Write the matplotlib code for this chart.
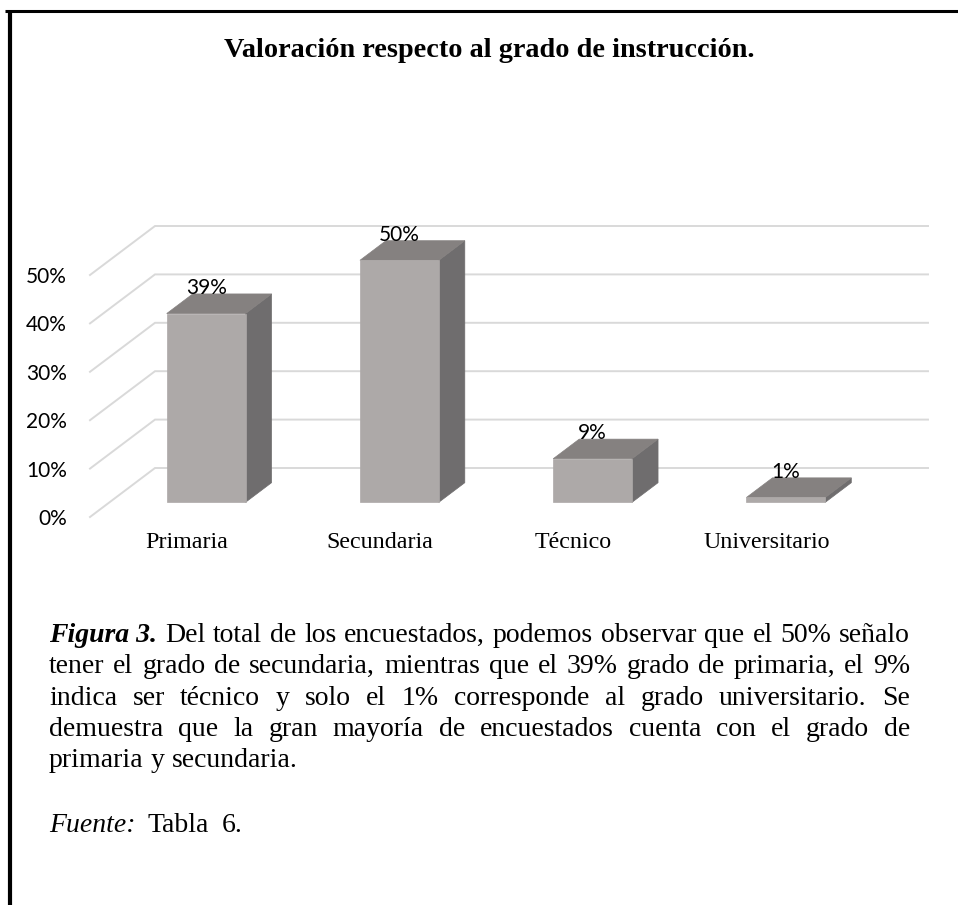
import matplotlib
matplotlib.use('Agg')
import matplotlib.pyplot as plt
from matplotlib.patches import Polygon
from matplotlib.lines import Line2D

# ---------------- data ----------------
categories = ['Primaria', 'Secundaria', 'Técnico', 'Universitario']
values = [39, 50, 9, 1]
value_labels = ['39%', '50%', '9%', '1%']
y_ticks = [0, 10, 20, 30, 40, 50]
y_tick_labels = ['0%', '10%', '20%', '30%', '40%', '50%']
title = 'Valoración respecto al grado de instrucción.'
caption_lines = [
    [('Figura 3.', 'bi'), ('Del', 'r'), ('total', 'r'), ('de', 'r'), ('los', 'r'), ('encuestados,', 'r'),
     ('podemos', 'r'), ('observar', 'r'), ('que', 'r'), ('el', 'r'), ('50%', 'r'), ('señalo', 'r')],
    [('tener', 'r'), ('el', 'r'), ('grado', 'r'), ('de', 'r'), ('secundaria,', 'r'), ('mientras', 'r'),
     ('que', 'r'), ('el', 'r'), ('39%', 'r'), ('grado', 'r'), ('de', 'r'), ('primaria,', 'r'), ('el', 'r'), ('9%', 'r')],
    [('indica', 'r'), ('ser', 'r'), ('técnico', 'r'), ('y', 'r'), ('solo', 'r'), ('el', 'r'), ('1%', 'r'),
     ('corresponde', 'r'), ('al', 'r'), ('grado', 'r'), ('universitario.', 'r'), ('Se', 'r')],
    [('demuestra', 'r'), ('que', 'r'), ('la', 'r'), ('gran', 'r'), ('mayoría', 'r'), ('de', 'r'),
     ('encuestados', 'r'), ('cuenta', 'r'), ('con', 'r'), ('el', 'r'), ('grado', 'r'), ('de', 'r')],
    [('primaria', 'r'), ('y', 'r'), ('secundaria.', 'r')],
]
source_line = [('Fuente:', 'i'), ('Tabla', 'r'), ('6.', 'r')]

# ---------------- layout / style ----------------
W, H = 958, 905
DPI = 100
DX, DY = 65.0, 49.0          # full depth offset of the 3-D floor (pixels)
D0, D1 = 0.30, 0.70          # bar depth range
HALF_W = 0.204               # half bar width (category units)
FRONT_C = '#ADA9A8'
SIDE_C = '#6F6D6E'
TOP_C = '#858180'
GRID_C = '#D9D9D9'
SERIF = ['Liberation Serif', 'DejaVu Serif']
SANS = ['Lato', 'DejaVu Sans']

fig = plt.figure(figsize=(W / DPI, H / DPI), dpi=DPI)
fig.patch.set_facecolor('white')

ax = fig.add_axes([90 / W, 388 / H, 773 / W, 242 / H])
ax.set_xlim(-0.5, len(categories) - 0.5)
ax.set_ylim(0, 50)
ax.patch.set_visible(False)
for s in ax.spines.values():
    s.set_visible(False)


def proj(x, y, d):
    px, py = ax.transData.transform((x, y))
    return ax.transData.inverted().transform((px + d * DX, py + d * DY))


x_left, x_right = ax.get_xlim()
# walls gridlines
for v in y_ticks:
    a = proj(x_left, v, 0)
    b = proj(x_left, v, 1)
    c = proj(x_right, v, 1)
    ax.add_line(Line2D([a[0], b[0], c[0]], [a[1], b[1], c[1]], color=GRID_C, lw=1.4,
                       clip_on=False, zorder=1, solid_joinstyle='miter'))

# bars
for i, v in enumerate(values):
    x0, x1 = i - HALF_W, i + HALF_W
    front = [proj(x0, 0, D0), proj(x1, 0, D0), proj(x1, v, D0), proj(x0, v, D0)]
    side = [proj(x1, 0, D0), proj(x1, 0, D1), proj(x1, v, D1), proj(x1, v, D0)]
    top = [proj(x0, v, D0), proj(x1, v, D0), proj(x1, v, D1), proj(x0, v, D1)]
    for pts, col in ((side, SIDE_C), (top, TOP_C), (front, FRONT_C)):
        ax.add_patch(Polygon(pts, closed=True, facecolor=col, edgecolor=col, lw=0.5,
                             clip_on=False, zorder=3))
    ax.annotate(value_labels[i], xy=(i, v),
                xytext=(D0 * DX * 72 / DPI, D1 * DY * 72 / DPI), textcoords='offset points',
                ha='center', va='baseline', fontsize=15, family=SANS, color='#000000',
                zorder=5, annotation_clip=False)

ax.set_yticks(y_ticks)
ax.set_yticklabels(y_tick_labels, fontsize=15, family=SANS)
ax.set_xticks(range(len(categories)))
ax.set_xticklabels(categories, fontsize=17.3, family=SERIF)
ax.tick_params(axis='y', length=0, pad=16.5)
ax.tick_params(axis='x', length=0, pad=11)

# title
fig.text(489.5 / W, 1 - 57 / H, title, ha='center', va='baseline', fontsize=20.3,
         fontweight='bold', family=SERIF)

# caption (justified)
renderer = fig.canvas.get_renderer()
CAP_SIZE = 20.0
LEFT, RIGHT = 49.0, 910.0
styles = {'r': dict(), 'b': dict(fontweight='bold'), 'i': dict(style='italic'),
          'bi': dict(fontweight='bold', style='italic')}


def place_line(words, y_px, justify, gap_factor=1.0):
    objs = []
    for w, st in words:
        t = fig.text(0, 1 - y_px / H, w, ha='left', va='baseline', fontsize=CAP_SIZE,
                     family=SERIF, **styles[st])
        objs.append(t)
    widths = [t.get_window_extent(renderer).width for t in objs]
    space = CAP_SIZE * DPI / 72 * 0.25
    if justify and len(objs) > 1:
        gap = (RIGHT - LEFT - sum(widths)) / (len(objs) - 1)
        gap = max(gap, space * 0.6)
    else:
        gap = space * gap_factor
    x = LEFT
    for t, w in zip(objs, widths):
        t.set_x(x / W)
        x += w + gap


base = 642.0
step = 31.3
for k, line in enumerate(caption_lines):
    place_line(line, base + k * step, justify=(k < len(caption_lines) - 1))
place_line(source_line, 832.0, justify=False, gap_factor=1.8)

# frame
fig.add_artist(Line2D([5 / W, 1.0], [1 - 11.3 / H] * 2, transform=fig.transFigure,
                      color='black', lw=2.2, solid_capstyle='butt'))
fig.add_artist(Line2D([9.5 / W] * 2, [1 - 10.5 / H, 0.0], transform=fig.transFigure,
                      color='black', lw=3.0, solid_capstyle='butt'))

fig.savefig('out.png', dpi=DPI, facecolor='white')
